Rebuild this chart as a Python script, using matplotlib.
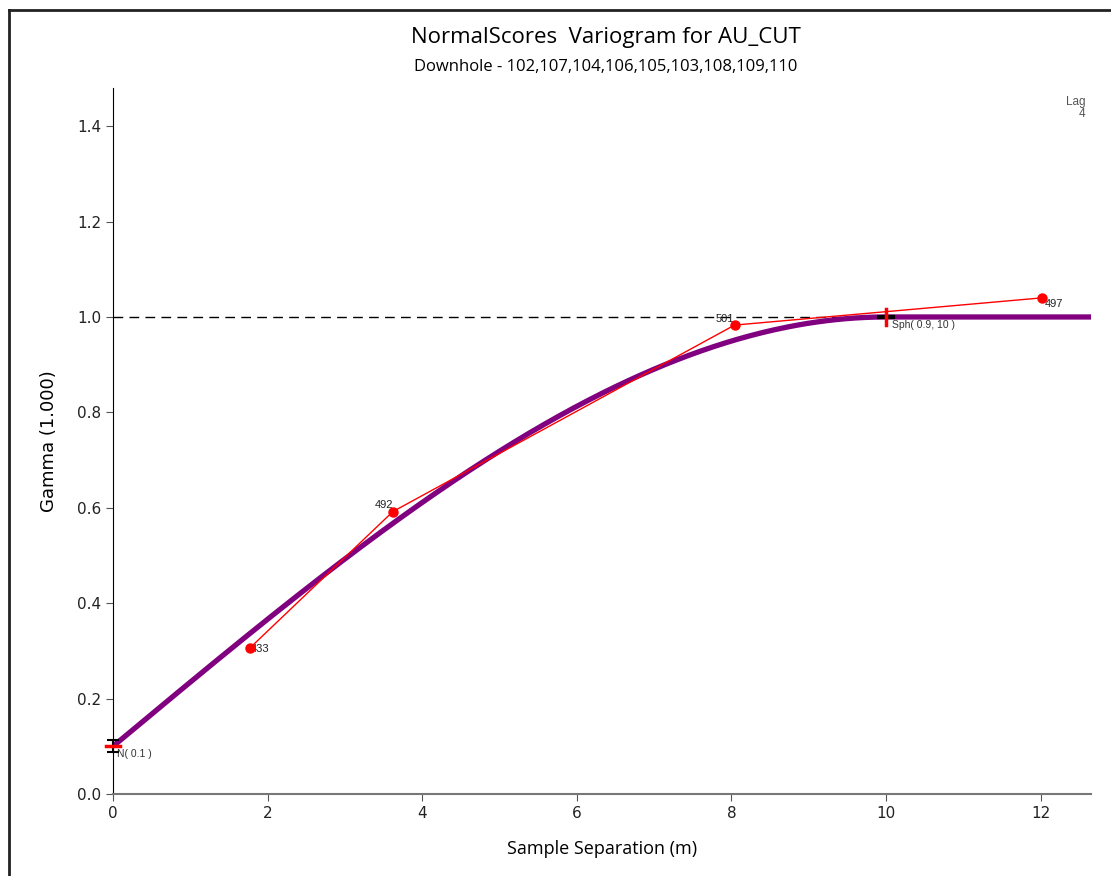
import numpy as np
import matplotlib
matplotlib.use("Agg")
import matplotlib.pyplot as plt
from matplotlib.lines import Line2D

# experimental variogram points (lag distance, gamma, pair count)
lag_x = [1.77, 3.62, 8.04, 12.01]
gamma = [0.306, 0.592, 0.983, 1.040]
pairs = [433, 492, 501, 497]

# model: nugget + spherical
nugget = 0.1
sph_sill = 0.9
sph_range = 10.0
sill = nugget + sph_sill

PURPLE = "#800080"
RED = "#ff0000"
ANNO_FONT = "Liberation Sans"


def spherical(h):
    h = np.asarray(h, dtype=float)
    r = np.clip(h / sph_range, 0, 1)
    return nugget + sph_sill * (1.5 * r - 0.5 * r ** 3)


fig = plt.figure(figsize=(11.11, 8.76), dpi=100)
ax = fig.add_axes([113 / 1111, 1 - 794 / 876, (1091 - 113) / 1111, (794 - 88) / 876])

# frame round the figure (top and left edges)
fig.add_artist(Line2D([9 / 1111, 9 / 1111], [0, 1 - 10 / 876], transform=fig.transFigure,
                      color="#222222", lw=2))
fig.add_artist(Line2D([9 / 1111, 1], [1 - 10 / 876, 1 - 10 / 876], transform=fig.transFigure,
                      color="#222222", lw=2))

xmax = 12.65
ax.set_xlim(0, xmax)
ax.set_ylim(0, 1.48)

# sill line
ax.axhline(sill, color="black", lw=1, dashes=(7, 4.5), zorder=1)

# model curve
h = np.linspace(0, xmax, 400)
ax.plot(h, spherical(h), color=PURPLE, lw=3.8, solid_capstyle="butt", zorder=3)

# experimental points
ax.plot(lag_x, gamma, color=RED, lw=1, zorder=4)
ax.plot(lag_x, gamma, "o", color=RED, ms=6.5, zorder=5)
label_pos = [((1, -1), "left", "center"), ((0, 1), "right", "bottom"),
             ((0, 1), "right", "bottom"), ((2, -1), "left", "top")]
for x, y, n, (off, ha, va) in zip(lag_x, gamma, pairs, label_pos):
    ax.annotate(str(n), (x, y), xytext=off, textcoords="offset points", ha=ha, va=va,
                fontsize=8, color="#222222", family=ANNO_FONT)

# nugget marker
ax.errorbar([0], [nugget], yerr=[[0.013], [0.013]], color="black", lw=1.5,
            capsize=4, capthick=1.5, zorder=6, clip_on=False)
ax.plot([-0.09, 0.09], [nugget, nugget], color=RED, lw=2.5, zorder=7, clip_on=False)
ax.annotate("N( 0.1 )", (0, nugget), xytext=(3, -2), textcoords="offset points",
            ha="left", va="top", fontsize=7.5, color="#333333", family=ANNO_FONT)

# range marker
ax.plot([sph_range - 0.09, sph_range + 0.09], [sill, sill], color="black", lw=3, zorder=6)
ax.plot([sph_range, sph_range], [sill - 0.016, sill + 0.016], color=RED, lw=2.5, zorder=7)
ax.annotate("Sph( 0.9, 10 )", (sph_range, sill), xytext=(4, -2), textcoords="offset points",
            ha="left", va="top", fontsize=7.5, color="#333333", family=ANNO_FONT)

ax.text(0.994, 0.988, "Lag\n4", transform=ax.transAxes, ha="right", va="top",
        fontsize=8.5, color="#555555", family=ANNO_FONT, linespacing=1.0)

for s in ["top", "right"]:
    ax.spines[s].set_visible(False)
ax.spines["left"].set_color("black")
ax.spines["bottom"].set_color("#777777")
ax.spines["bottom"].set_linewidth(1.5)

ax.set_xticks(np.arange(0, 13, 2))
ax.set_yticks(np.arange(0, 1.41, 0.2))
ax.yaxis.set_major_formatter(plt.FormatStrFormatter("%.1f"))
ax.tick_params(labelsize=11, length=5, color="#555555", labelcolor="#222222")
for lbl in ax.get_xticklabels() + ax.get_yticklabels():
    lbl.set_family("DejaVu Sans")

ax.set_xlabel("Sample Separation (m)", fontsize=13, family="Open Sans", labelpad=14)
ax.set_ylabel("Gamma (1.000)", fontsize=13, family="DejaVu Sans", labelpad=14)

fig.text(0.545, 1 - 38 / 876, "NormalScores  Variogram for AU_CUT", ha="center", va="center",
         fontsize=16, family="Open Sans")
fig.text(0.545, 1 - 67 / 876, "Downhole - 102,107,104,106,105,103,108,109,110", ha="center",
         va="center", fontsize=12, family="Open Sans")

fig.savefig("out.png", dpi=100)
